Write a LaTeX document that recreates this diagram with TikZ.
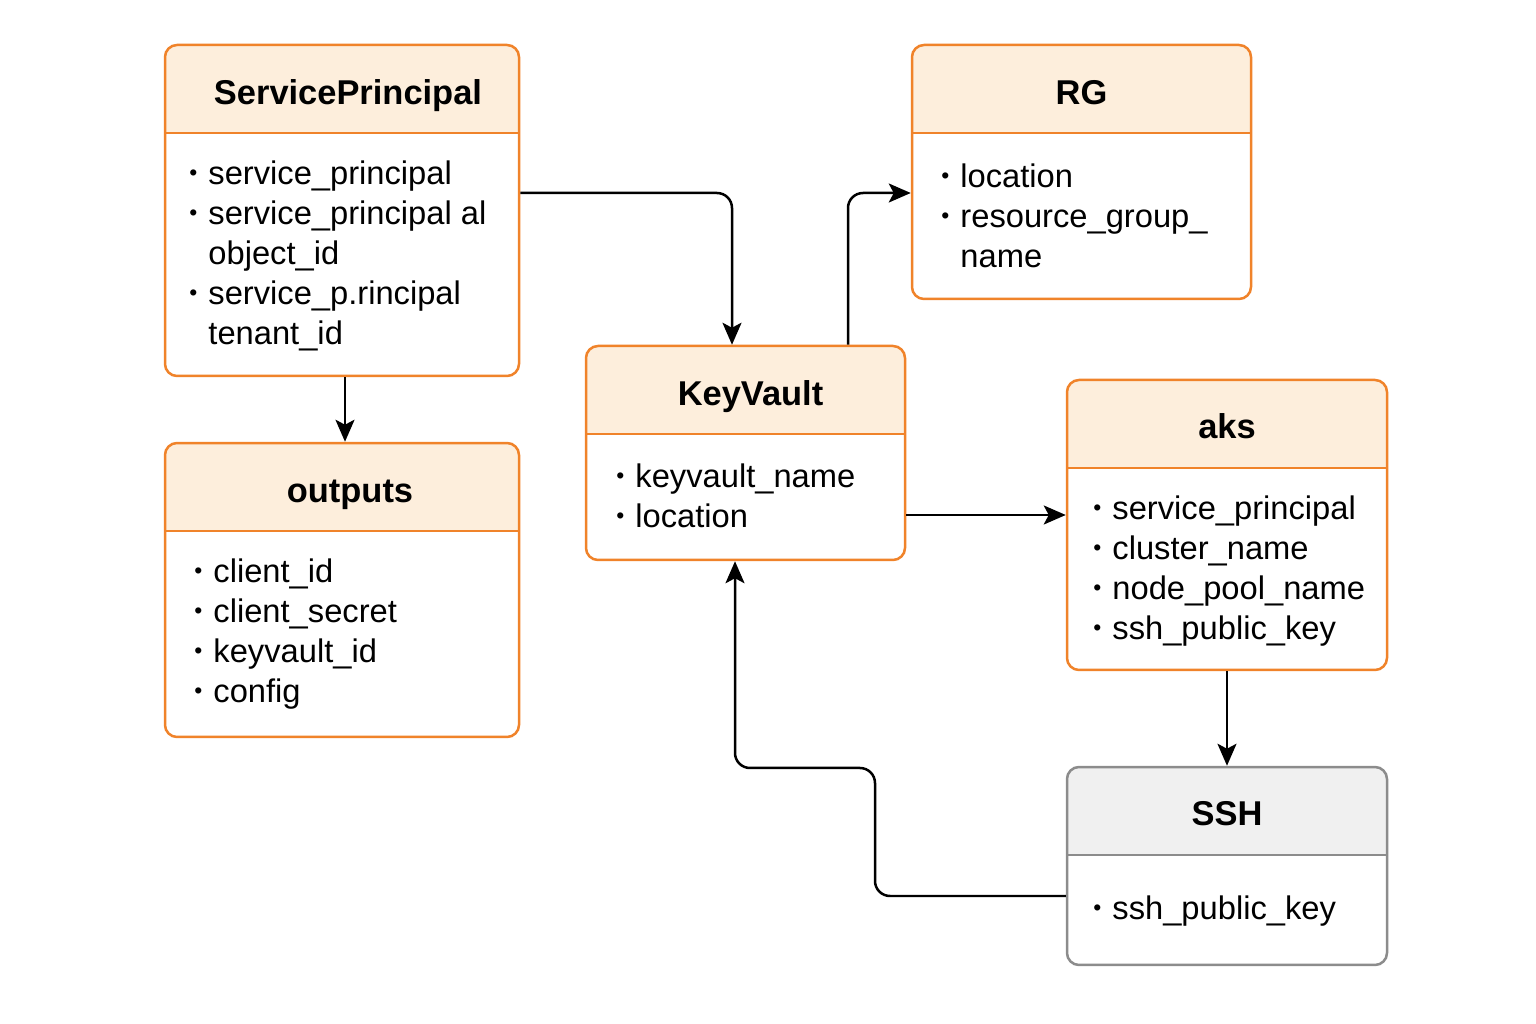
\documentclass[tikz,border=0pt]{standalone}
\usepackage{fontspec}
\setmainfont{Liberation Sans}
\usetikzlibrary{
	arrows.meta,
	positioning,
}
\definecolor{orangeline}{HTML}{F0832A}
\definecolor{orangehead}{HTML}{FDEEDC}
\definecolor{grayline}{HTML}{8C8C8C}
\definecolor{grayhead}{HTML}{F0F0F0}
\tikzset{entity/.style={
	draw=#1line,
	fill=white,
	rounded corners=1.2mm,
	line width=0.25mm,
	inner sep=0pt,
	path picture={
		\fill[#1head, sharp corners] (path picture bounding box.north west)
			rectangle ([yshift=-8.8mm]path picture bounding box.north east);
		\draw[#1line, line width=0.25mm, sharp corners]
			([yshift=-8.8mm]path picture bounding box.north west)
			-- ([yshift=-8.8mm]path picture bounding box.north east);
	},
},
entity/.default=orange}
\tikzset{title/.style={
	font=\fontsize{9.8}{12}\selectfont\bfseries,
	inner sep=0pt,
	text height=0.72em,
	text depth=0pt,
}}
\tikzset{fields/.style={
	font=\fontsize{9.3}{11.4}\selectfont,
	align=left,
	inner sep=0pt,
	anchor=north west,
}}
\tikzset{link/.style={
	-{Stealth[length=2.2mm,width=1.9mm,inset=0.5mm]},
	line width=0.25mm,
	rounded corners=1.5mm,
}}
\newcommand{\itm}{\makebox[1.9mm][l]{\raisebox{0.2ex}{\fontsize{6.5}{6.5}\selectfont\textbullet}}}
\newcommand{\cont}{\hspace*{1.9mm}}

\begin{document}
\begin{tikzpicture}[x=0.1mm, y=-0.1mm]
\useasboundingbox (0,0) rectangle (1536,1024);

% boxes
\node[entity, minimum width=35.4mm, minimum height=33.1mm] (sp) at (342,210.5) {};
\node[entity, minimum width=35.4mm, minimum height=29.4mm] (out) at (342,590) {};
\node[entity, minimum width=33.9mm, minimum height=25.4mm] (rg) at (1081.5,172) {};
\node[entity, minimum width=31.9mm, minimum height=21.4mm] (kv) at (745.5,453) {};
\node[entity, minimum width=32mm, minimum height=29mm] (aks) at (1227,525) {};
\node[entity=gray, minimum width=32mm, minimum height=19.8mm] (ssh) at (1227,866) {};

% titles
\node[title] (sp-title) at ([xshift=0.6mm, yshift=-4.85mm]sp.north) {ServicePrincipal};
\node[title] (out-title) at ([xshift=0.8mm, yshift=-4.85mm]out.north) {outputs};
\node[title] (rg-title) at ([yshift=-4.85mm]rg.north) {RG};
\node[title] (kv-title) at ([xshift=0.5mm, yshift=-4.85mm]kv.north) {KeyVault};
\node[title] (aks-title) at ([yshift=-4.7mm]aks.north) {aks};
\node[title] (ssh-title) at ([yshift=-4.7mm]ssh.north) {SSH};

% fields
\node[fields] (sp-fields) at ([xshift=2.5mm, yshift=-11.6mm]sp.north west) {
\itm service\_principal\\
\itm service\_principal al\\
\cont object\_id\\
\itm service\_p.rincipal\\
\cont tenant\_id};
\node[fields] (out-fields) at ([xshift=3mm, yshift=-11.6mm]out.north west) {
\itm client\_id\\
\itm client\_secret\\
\itm keyvault\_id\\
\itm config};
\node[fields] (rg-fields) at ([xshift=3mm, yshift=-11.9mm]rg.north west) {
\itm location\\
\itm resource\_group\_\\
\cont name};
\node[fields] (kv-fields) at ([xshift=3.1mm, yshift=-11.8mm]kv.north west) {
\itm keyvault\_name\\
\itm location};
\node[fields] (aks-fields) at ([xshift=2.7mm, yshift=-11.6mm]aks.north west) {
\itm service\_principal\\
\itm cluster\_name\\
\itm node\_pool\_name\\
\itm ssh\_public\_key};
\node[fields] (ssh-fields) at ([xshift=2.7mm, yshift=-12.9mm]ssh.north west) {
\itm ssh\_public\_key};

% links
\draw[link] ([yshift=1.75mm]sp.east) -| ([xshift=-1.35mm]kv.north);
\draw[link] ([xshift=0.3mm]sp.south) -- ([xshift=0.3mm]out.north);
\draw[link] ([xshift=10.25mm]kv.north) |- ([yshift=-2.1mm]rg.west);
\coordinate (kv-out) at ([yshift=-6.2mm]kv.east);
\draw[link] (kv-out) -- (kv-out -| aks.west);
\draw[link] (aks.south) -- (ssh.north);
\coordinate (turn) at (875,768);
\draw[link] ([yshift=-3mm]ssh.west) -| (turn) -| ([xshift=-1.05mm]kv.south);

\end{tikzpicture}
\end{document}
